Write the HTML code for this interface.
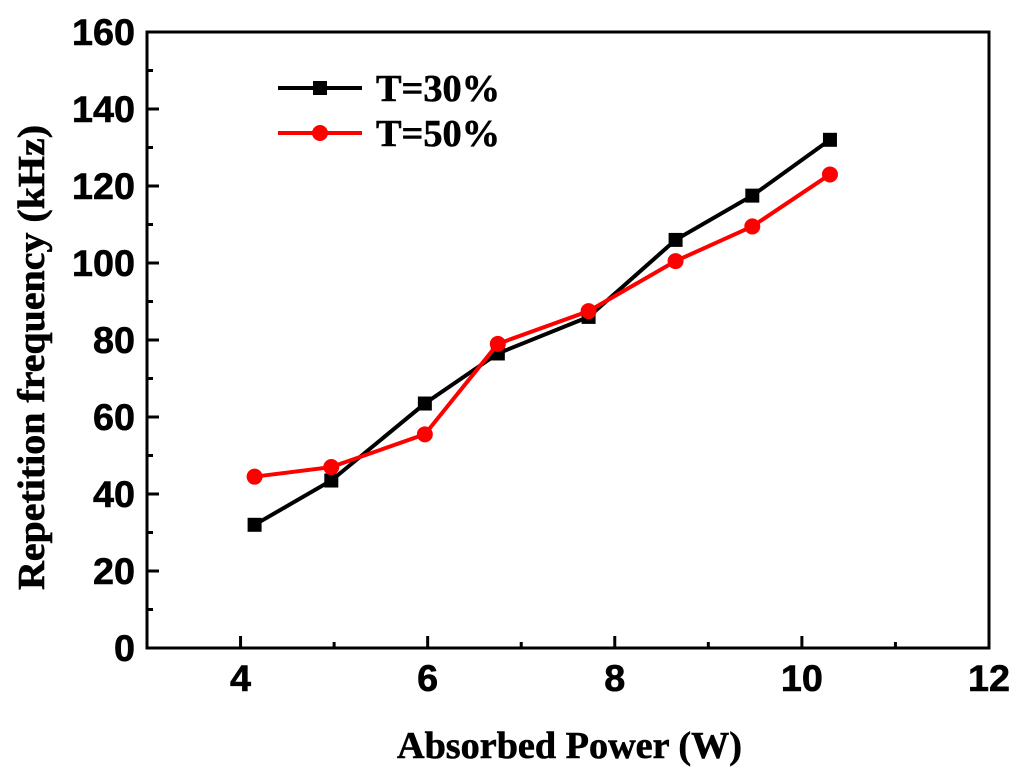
<!DOCTYPE html>
<html><head><meta charset="utf-8"><style>
body{margin:0;background:#fff}
svg{display:block}
.t{font-family:"Liberation Sans",sans-serif;font-weight:bold;font-size:37px;stroke:#000;stroke-width:0.6}
.a{font-family:"Liberation Serif",serif;font-weight:bold;font-size:38px;stroke:#000;stroke-width:0.6}
</style></head><body>
<svg width="1024" height="776">
<g id="g"></g>
</svg>
<script>
const xTicks=[4,6,8,10,12];
const yTicks=[0,20,40,60,80,100,120,140,160];
const xs30=[4.15,4.97,5.97,6.75,7.72,8.65,9.47,10.3];
const ys30=[32,43.5,63.5,76.5,86,106,117.5,132];
const xs50=[4.15,4.97,5.97,6.75,7.72,8.65,9.47,10.3];
const ys50=[44.5,47,55.5,79,87.5,100.5,109.5,123];
const L=147,R=989,T=32,B=648;
const X=v=>L+(v-3)/9*(R-L), Y=v=>B-v/160*(B-T);
const g=document.getElementById('g');const NS='http://www.w3.org/2000/svg';
function el(t,a,p){const e=document.createElementNS(NS,t);for(const k in a)e.setAttribute(k,a[k]);(p||g).appendChild(e);return e;}
let f=el('rect',{x:L,y:T,width:R-L,height:B-T,fill:'none',stroke:'#000','stroke-width':3});


for(let v=3;v<=12;v+=1){const maj=v%2===0;let t=el('line',{x1:X(v),x2:X(v),y1:B,y2:B-(maj?12:6),stroke:'#000','stroke-width':3});

}
for(let v=0;v<=160;v+=10){const maj=v%20===0;let t=el('line',{x1:L,x2:L+(maj?12:6),y1:Y(v),y2:Y(v),stroke:'#000','stroke-width':3});

}
xTicks.forEach(v=>{let t=el('text',{x:X(v),y:B+43,'text-anchor':'middle',class:'t',textLength:String(v).length*21,lengthAdjust:'spacingAndGlyphs'});t.textContent=v;

});
yTicks.forEach(v=>{let t=el('text',{x:L-12,y:Y(v)+13,'text-anchor':'end',class:'t',textLength:String(v).length*21,lengthAdjust:'spacingAndGlyphs'});t.textContent=v;

});
let xt=el('text',{x:397,y:758,class:'a',textLength:345,lengthAdjust:'spacingAndGlyphs'});xt.textContent='Absorbed Power (W)';


let yt=el('text',{x:0,y:0,class:'a',textLength:465,lengthAdjust:'spacingAndGlyphs',transform:'translate(44,590) rotate(-90)'});yt.textContent='Repetition frequency (kHz)';


function series(xs,ys,c,sq,name){
let p=el('polyline',{points:xs.map((x,i)=>X(x)+','+Y(ys[i])).join(' '),fill:'none',stroke:c,'stroke-width':4});


xs.forEach((x,i)=>{let m=sq?el('rect',{x:X(x)-7,y:Y(ys[i])-7,width:14,height:14,fill:c}):el('circle',{cx:X(x),cy:Y(ys[i]),r:8,fill:c});

});}
series(xs30,ys30,'#000',true,'t30');
series(xs50,ys50,'#f00',false,'t50');
function leg(y,c,sq,txt,name){
let l=el('line',{x1:278,x2:362,y1:y,y2:y,stroke:c,'stroke-width':4});


let m=sq?el('rect',{x:313,y:y-7,width:14,height:14,fill:c}):el('circle',{cx:320,cy:y,r:8,fill:c});


let t=el('text',{x:376,y:y+13,class:'a',textLength:124,lengthAdjust:'spacingAndGlyphs'});t.textContent=txt;

}
leg(88,'#000',true,'T=30%','t30');
leg(133,'#f00',false,'T=50%','t50');
</script>
</body></html>
